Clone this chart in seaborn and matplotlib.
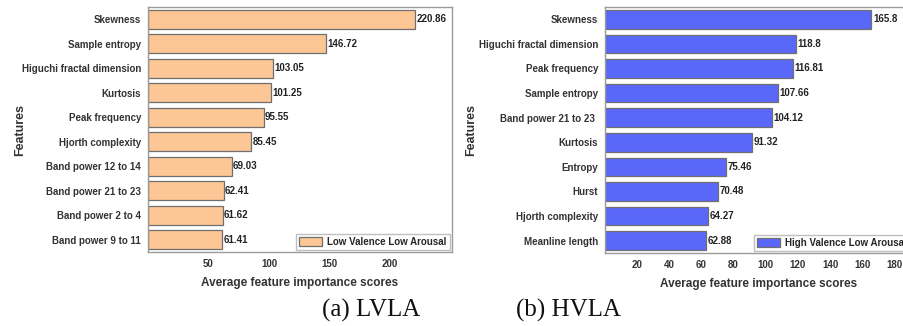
import numpy as np
import pandas as pd
import seaborn as sns
import matplotlib.pyplot as plt
from matplotlib.patches import Patch

# LVLA panel
lvla_features = ['Skewness', 'Sample entropy', 'Higuchi fractal dimension', 'Kurtosis',
                 'Peak frequency', 'Hjorth complexity', 'Band power 12 to 14',
                 'Band power 21 to 23', 'Band power 2 to 4', 'Band power 9 to 11']
lvla_scores = [220.86, 146.72, 103.05, 101.25, 95.55, 85.45, 69.03, 62.41, 61.62, 61.41]

# HVLA panel
hvla_features = ['Skewness', 'Higuchi fractal dimension', 'Peak frequency', 'Sample entropy',
                 'Band power 21 to 23 ', 'Kurtosis', 'Entropy', 'Hurst',
                 'Hjorth complexity', 'Meanline length']
hvla_scores = [165.8, 118.8, 116.81, 107.66, 104.12, 91.32, 75.46, 70.48, 64.27, 62.88]

lvla_ticks = [50, 100, 150, 200]
hvla_ticks = [20, 40, 60, 80, 100, 120, 140, 160, 180]

sns.set_style('white')
plt.rcParams['font.family'] = ['Liberation Sans', 'DejaVu Sans']
plt.rcParams['font.weight'] = 'bold'

fig = plt.figure(figsize=(9.04, 3.26), dpi=100)
W, H = 904, 326

def panel(rect_px, feats, scores, color, label, xmax, ticks):
    x0, x1, ytop, ybot = rect_px
    ax = fig.add_axes([x0 / W, 1 - ybot / H, (x1 - x0) / W, (ybot - ytop) / H])
    df = pd.DataFrame({'Features': feats, 'Score': scores})
    sns.barplot(data=df, x='Score', y='Features', color=color, edgecolor='#6f6f6f',
                linewidth=0.9, width=0.76, saturation=1, ax=ax)
    ax.bar_label(ax.containers[0], labels=[f'{v:g}' for v in scores], padding=1,
                 fontsize=7, fontweight='bold', color='#222222')
    ax.set_xlim(0, xmax)
    ax.set_xticks(ticks)
    ax.set_xlabel('Average feature importance scores', fontsize=8.5, fontweight='bold',
                  color='#333333', labelpad=6)
    ax.set_ylabel('Features', fontsize=9, fontweight='bold', color='#333333')
    ax.tick_params(axis='both', labelsize=7, length=3, width=0.6, color='#666666',
                   labelcolor='#333333', pad=2)
    for t in ax.get_xticklabels() + ax.get_yticklabels():
        t.set_fontweight('bold')
    for s in ax.spines.values():
        s.set_color('#9a9a9a')
        s.set_linewidth(1.0)
    handle = Patch(facecolor=color, edgecolor='#6f6f6f', linewidth=0.9)
    ax.legend([handle], [label], loc='lower right', fontsize=7, frameon=True,
              edgecolor='#b0b0b0', fancybox=False, borderpad=0.3, handlelength=2.4,
              handleheight=1.1, handletextpad=0.5, borderaxespad=0.25,
              prop={'weight': 'bold', 'size': 7})
    return ax

ax1 = panel((148, 452, 7, 252), lvla_features, lvla_scores, '#fdc795',
            'Low Valence Low Arousal', 251, lvla_ticks)
ax1.yaxis.set_label_coords(-0.40, 0.5)
ax2 = panel((605, 912, 7, 253), hvla_features, hvla_scores, '#5a68fa',
            'High Valence Low Arousal', 191, hvla_ticks)
ax2.yaxis.set_label_coords(-0.415, 0.5)

fig.text(371 / W, 1 - 310 / H, '(a) LVLA', family='Liberation Serif', fontsize=18,
         fontweight='normal', ha='center', va='center', color='#111111')
fig.text(568 / W, 1 - 310 / H, '(b) HVLA', family='Liberation Serif', fontsize=18,
         fontweight='normal', ha='center', va='center', color='#111111')

fig.savefig('out.png', dpi=100)
